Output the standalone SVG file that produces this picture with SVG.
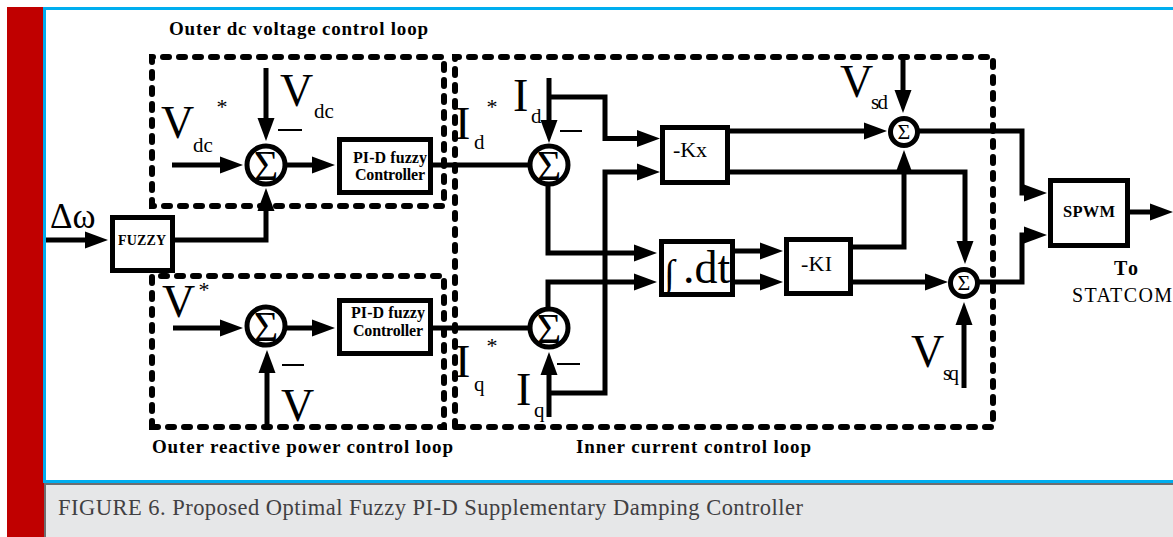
<svg xmlns="http://www.w3.org/2000/svg" width="1173" height="537" viewBox="0 0 1173 537">
<style>
.f{fill:none;stroke:#000;stroke-width:5;stroke-linejoin:miter}
.b{fill:#fff;stroke:#000;stroke-width:5}
.c{fill:#fff;stroke:#000;stroke-width:5}
.d{fill:none;stroke:#000;stroke-width:6;stroke-linecap:round;stroke-dasharray:6 10}
.a{marker-end:url(#ah)}
.m{stroke:#000;stroke-width:2}
text{font-family:"Liberation Serif","Times New Roman",serif;fill:#000}
.big{font-size:46px}
.sub{font-size:21px}
.star{font-size:22px}
.bl{font-size:19px;font-weight:bold}
.bx{font-size:16px;font-weight:bold}
.sg{text-anchor:middle}
</style>
<defs>
<marker id="ah" markerUnits="userSpaceOnUse" markerWidth="24" markerHeight="18" viewBox="0 0 24 18" refX="10" refY="9" orient="auto"><path d="M0 0.500L23 9L0 17.500Z" fill="#000"/></marker>
</defs>
<rect width="1173" height="537" fill="#fff"/>
<g id="frame">
<rect x="7" y="7" width="37" height="530" fill="#c00000"/>
<rect x="44" y="484" width="1129" height="53" fill="#e6e7e8"/>
<rect x="44" y="483" width="1129" height="2" fill="#6d6e70"/>
<rect x="44" y="483" width="2" height="54" fill="#6d6e70"/>
<rect x="43" y="7" width="1130" height="3" fill="#00aeef"/>
<rect x="43" y="7" width="3" height="476" fill="#00aeef"/>
<rect x="43" y="480" width="1130" height="3" fill="#00aeef"/>
</g>
<g id="loops">
<path id="loop-dc" class="d" d="M152 206V57H444V206Z"/>
<path id="loop-q" class="d" d="M152 427V276H444V427Z"/>
<path id="loop-inner" class="d" d="M455 427V57H993V427Z"/>
</g>
<g id="connectors">
<path class="f a" d="M46 240H95"/>
<path class="f a" d="M175 240H266V201"/>
<path class="f a" d="M172 165H230"/>
<path class="f a" d="M266 68V128"/>
<path class="f a" d="M285 165H322"/>
<path class="f" d="M433 165H530"/>
<path class="f a" d="M173 328H230"/>
<path class="f a" d="M285 328H322"/>
<path class="f a" d="M267 425V363"/>
<path class="f" d="M433 328H530"/>
<path class="f a" d="M549 78V130"/>
<path class="f a" d="M549 97H605V138.500H647"/>
<path class="f a" d="M548 184V253H644"/>
<path class="f a" d="M549 417V365"/>
<path class="f a" d="M549 393H605V172H647"/>
<path class="f a" d="M548 308V282H644"/>
<path class="f a" d="M730 131H874"/>
<path class="f a" d="M730 172H965V251"/>
<path class="f a" d="M735 251H770"/>
<path class="f a" d="M735 282H770"/>
<path class="f a" d="M853 247H904V163"/>
<path class="f a" d="M853 282H935"/>
<path class="f a" d="M903 57V100"/>
<path class="f a" d="M964 388V315"/>
<path class="f a" d="M918 131H1022V193H1034"/>
<path class="f a" d="M978 282H1022V235H1034"/>
<path class="f a" d="M1130 212H1160"/>
<path class="m" d="M278 130H302M282 365H304M560 131H582M557 364H580"/>
</g>
<g id="sum-dc"><circle class="c" cx="266" cy="165" r="19"/><text class="sg" x="266" y="180" font-size="42">Σ</text></g>
<g id="sum-q"><circle class="c" cx="266" cy="326" r="19"/><text class="sg" x="266" y="341" font-size="42">Σ</text></g>
<g id="sum-id"><circle class="c" cx="549" cy="165" r="19"/><text class="sg" x="549" y="180" font-size="42">Σ</text></g>
<g id="sum-iq"><circle class="c" cx="549" cy="328" r="19"/><text class="sg" x="549" y="343" font-size="42">Σ</text></g>
<g id="sum-vsd"><circle class="c" cx="904" cy="132" r="13.500"/><text class="sg" x="904" y="139" font-size="22">Σ</text></g>
<g id="sum-vsq"><circle class="c" cx="964" cy="283" r="13.500"/><text class="sg" x="964" y="290" font-size="22">Σ</text></g>
<g id="fuzzy"><rect class="b" x="112.500" y="217.500" width="60" height="53"/><text x="118" y="245" font-size="14" font-weight="bold" textLength="48">FUZZY</text></g>
<g id="pid-dc"><rect class="b" x="339.500" y="139.500" width="91" height="53"/><text class="bx" x="353" y="163" textLength="74">PI-D fuzzy</text><text class="bx" x="355" y="180" textLength="70">Controller</text></g>
<g id="pid-q"><rect class="b" x="339.500" y="300.500" width="91" height="53"/><text class="bx" x="351" y="318" textLength="74">PI-D fuzzy</text><text class="bx" x="353" y="336" textLength="70">Controller</text></g>
<g id="kx"><rect class="b" x="662.500" y="127.500" width="65" height="55"/><text x="673" y="157" font-size="22" textLength="34">-Kx</text></g>
<g id="intdt"><rect class="b" x="661.500" y="241.500" width="71" height="53"/><text x="664" y="286" font-size="38">∫</text><text class="big" x="683" y="283">.dt</text></g>
<g id="ki"><rect class="b" x="786.500" y="239.500" width="64" height="54"/><text x="801" y="271" font-size="22" textLength="31">-KI</text></g>
<g id="spwm"><rect class="b" x="1050.500" y="180.500" width="77" height="65"/><text x="1063" y="217" font-size="16.500" font-weight="bold" textLength="52">SPWM</text></g>
<g id="labels">
<text class="bl" x="169" y="35" textLength="259">Outer dc voltage control loop</text>
<text class="bl" x="152" y="453" textLength="301">Outer reactive power control loop</text>
<text class="bl" x="576" y="453" textLength="235">Inner current control loop</text>
<text x="50" y="228" font-size="35">Δω</text>
<text class="big" x="161" y="138">V</text><text class="sub" x="193" y="152">dc</text><text class="star sg" x="222" y="114">*</text>
<text class="big" x="280" y="106">V</text><text class="sub" x="314" y="118">dc</text>
<text class="big" x="162" y="317">V</text><text class="star sg" x="204" y="297">*</text>
<text class="big" x="281" y="421">V</text>
<text class="big" x="455" y="139">I</text><text class="sub" x="474" y="149">d</text><text class="star sg" x="492" y="114">*</text>
<text class="big" x="513" y="111">I</text><text class="sub" x="531" y="123">d</text>
<text class="big" x="455" y="377">I</text><text class="sub" x="474" y="391">q</text><text class="star sg" x="492" y="353">*</text>
<text class="big" x="516" y="405">I</text><text class="sub" x="534" y="417">q</text>
<text class="big" x="840" y="97">V</text><text class="sub" x="871" y="109" font-size="19" textLength="17">sd</text>
<text class="big" x="911" y="367">V</text><text class="sub" x="943" y="380" font-size="19" textLength="16">sq</text>
<text x="1114" y="275" font-size="20" font-weight="bold" textLength="24">To</text>
<text x="1072" y="302" font-size="20" textLength="100">STATCOM</text>
<text x="58" y="515" font-size="22.500" style="fill:#414042" textLength="745">FIGURE 6. Proposed Optimal Fuzzy PI-D Supplementary Damping Controller</text>
</g>
</svg>
